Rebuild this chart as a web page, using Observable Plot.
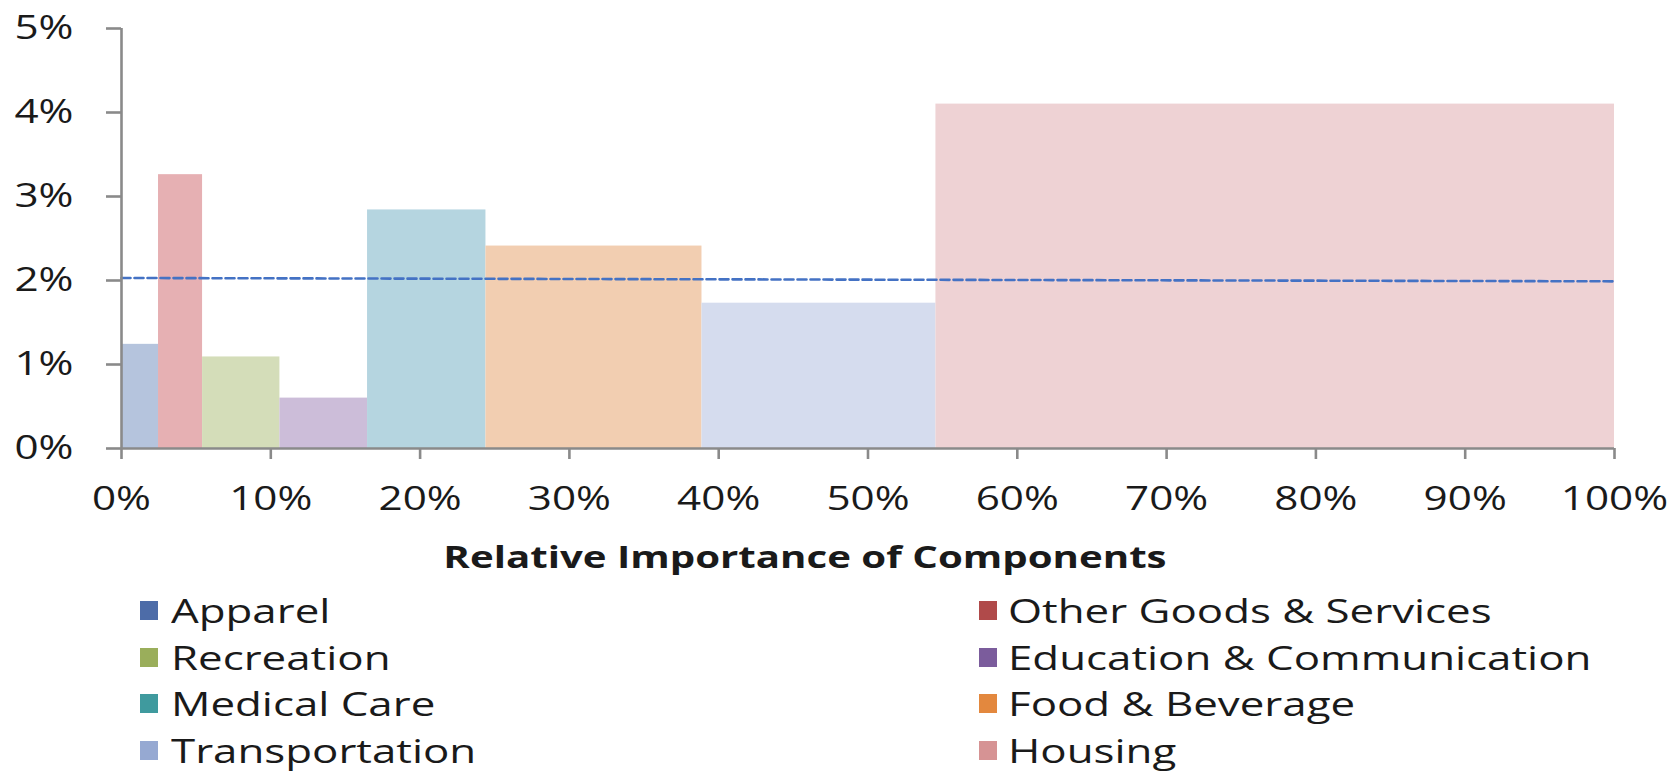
<!DOCTYPE html>
<html>
<head>
<meta charset="utf-8">
<script src="https://cdn.jsdelivr.net/npm/d3@7"></script>
<script src="https://cdn.jsdelivr.net/npm/@observablehq/plot@0.6"></script>
<style>
  body { margin: 0; background: #fff; }
  #wrap { position: relative; width: 1675px; height: 773px; overflow: hidden; font-family: "Open Sans", sans-serif; color: #1a1a1a; }
  #chart { position: absolute; left: 0; top: 0; }
  .title { position: absolute; top: 542px; left: 0; width: 1610px; text-align: center; font-size: 30px; font-weight: 700; line-height: 30px; transform: scaleX(1.34); transform-origin: 805px 0; white-space: nowrap; }
  .swatch { position: absolute; width: 18px; height: 19px; }
  .lab { position: absolute; font-size: 32px; line-height: 32px; white-space: nowrap; transform: scaleX(1.37); transform-origin: 0 0; }
</style>
</head>
<body>
<div id="wrap"><div id="chart"></div></div>
<script>
// CPI components: share of the basket (bar width) and price change (bar height), both in %
const categories = ["Apparel", "Other Goods & Services", "Recreation", "Education & Communication",
                    "Medical Care", "Food & Beverage", "Transportation", "Housing"];
const weights   = [2.48, 2.95, 5.18, 5.87, 7.93, 14.47, 15.67, 45.45];
const inflation = [1.24, 3.26, 1.09, 0.60, 2.84, 2.41, 1.73, 4.10];

// overall index change, drawn as a dashed reference line
const overallX = [0, 100];
const overallY = [2.03, 1.99];

const barColors    = ["#b5c4dd", "#e6b0b3", "#d4ddb9", "#ccbdd9", "#b5d5e0", "#f2ceb1", "#d5dcee", "#eed2d4"];
const legendColors = ["#4d6ca8", "#b04a4a", "#9aae5b", "#7b5c9c", "#3f9a9e", "#e3883e", "#96a9d2", "#d69394"];

const xTicks = [0, 10, 20, 30, 40, 50, 60, 70, 80, 90, 100];
const yTicks = [0, 1, 2, 3, 4, 5];
const axisTitle = "Relative Importance of Components";

// cumulative layout of the variable-width bars
let acc = 0;
const bars = categories.map((name, i) => {
  const x1 = acc;
  acc += weights[i];
  return {name, x1, x2: acc, value: inflation[i]};
});
const overall = overallX.map((x, i) => ({x, y: overallY[i]}));

const axisGray = "#8a8a8a";
const pct = d => d + "%";

const svg = Plot.plot({
  width: 1675,
  height: 530,
  marginLeft: 121,
  marginRight: 61,
  marginTop: 28,
  marginBottom: 82,
  style: {fontFamily: "Open Sans", fontSize: "33px", background: "#fff", color: "#1a1a1a"},
  x: {domain: [0, 100]},
  y: {domain: [0, 5]},
  color: {domain: categories, range: barColors},
  marks: [
    Plot.rect(bars, {x1: "x1", x2: "x2", y1: 0, y2: "value", fill: "name"}),
    Plot.line(overall, {x: "x", y: "y", stroke: "#4472c4", strokeWidth: 2.6, strokeDasharray: "9,4"}),
    Plot.ruleX([0], {y1: 0, y2: 5, stroke: axisGray, strokeWidth: 2.6}),
    Plot.ruleY([0], {x1: 0, x2: 100, stroke: axisGray, strokeWidth: 2.6}),
    Plot.axisY({ticks: yTicks, tickSize: 15, tickPadding: 33, tickFormat: pct, fontSize: 33,
                stroke: axisGray, strokeWidth: 2.6, fill: "#1a1a1a", label: null}),
    Plot.axisX({ticks: xTicks, tickSize: 11, tickPadding: 27, tickFormat: pct, fontSize: 33,
                stroke: axisGray, strokeWidth: 2.6, fill: "#1a1a1a", label: null})
  ]
});

// widen the tick labels horizontally around their anchor
const SX = 1.28;
svg.querySelectorAll("text").forEach(t => {
  let tr = t.getAttribute("transform") || "";
  const x = t.getAttribute("x");
  if (x != null) { tr += ` translate(${x},0)`; t.removeAttribute("x"); }
  t.setAttribute("transform", (tr + ` scale(${SX},1)`).trim());
});

const wrap = document.getElementById("wrap");
document.getElementById("chart").appendChild(svg);

// axis title under the chart
const title = document.createElement("div");
title.className = "title";
title.textContent = axisTitle;
wrap.appendChild(title);

// two-column legend, filled row by row
const colSwatch = [140, 979];
const colText = [171, 1008];
categories.forEach((name, i) => {
  const col = i % 2, row = Math.floor(i / 2);
  const sw = document.createElement("div");
  sw.className = "swatch";
  sw.style.left = colSwatch[col] + "px";
  sw.style.top = (601 + 46.5 * row) + "px";
  sw.style.background = legendColors[i];
  wrap.appendChild(sw);
  const lab = document.createElement("div");
  lab.className = "lab";
  lab.style.left = colText[col] + "px";
  lab.style.top = (595 + 46.5 * row) + "px";
  lab.textContent = name;
  wrap.appendChild(lab);
});
</script>
</body>
</html>
